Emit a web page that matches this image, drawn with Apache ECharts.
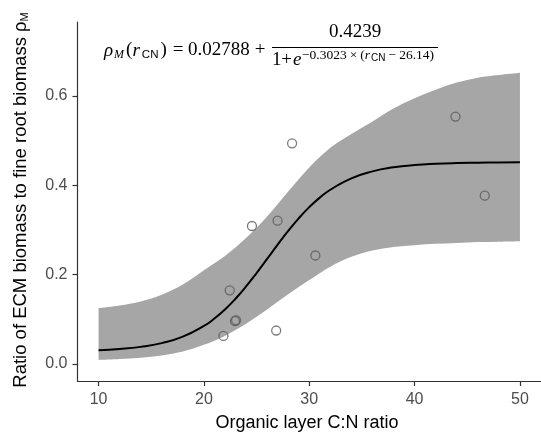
<!DOCTYPE html>
<html>
<head>
<meta charset="utf-8">
<script src="https://cdn.jsdelivr.net/npm/echarts@6/dist/echarts.min.js"></script>
<style>
  html, body { margin: 0; padding: 0; background: #fff; }
  #chart { width: 541px; height: 433px; }
</style>
</head>
<body>
<div id="chart"></div>
<script>
// Observed ECM / fine-root biomass ratios against organic layer C:N
const obsCN    = [28.37, 24.56, 26.99, 30.58, 22.45, 22.95, 23.05, 21.85, 26.86, 43.88, 46.66];
const obsRatio = [0.494, 0.309, 0.321, 0.243, 0.165, 0.096, 0.098, 0.063, 0.075, 0.554, 0.377];

// Fitted logistic curve
const fitCN    = [10, 12, 14, 16, 18, 20, 21, 22, 23, 24, 25, 26, 27, 28, 29, 30, 31, 32, 34, 36, 38, 40, 42, 44, 46, 48, 50];
const fitRatio = [0.0311, 0.0337, 0.0384, 0.0468, 0.0612, 0.0852, 0.1019, 0.1222, 0.1462, 0.1736, 0.2037,
                  0.2353, 0.2672, 0.2979, 0.3262, 0.3512, 0.3725, 0.3902, 0.4158, 0.4313, 0.4403, 0.4455,
                  0.4483, 0.4499, 0.4507, 0.4512, 0.4515];

// Confidence band around the fit
const bandCN    = [10, 12, 14, 16, 18, 20, 22, 24, 26, 28, 30, 32, 34, 36, 38, 40, 42, 44, 46, 48, 50];
const bandLower = [0.009, 0.011, 0.014, 0.019, 0.028, 0.043, 0.063, 0.090, 0.122, 0.156, 0.188,
                   0.218, 0.240, 0.254, 0.262, 0.266, 0.269, 0.271, 0.273, 0.274, 0.275];
const bandUpper = [0.125, 0.131, 0.140, 0.155, 0.178, 0.210, 0.242, 0.282, 0.330, 0.386, 0.440,
                   0.484, 0.515, 0.543, 0.572, 0.595, 0.614, 0.630, 0.641, 0.647, 0.652];

// Tick labels
const xTicks = [10, 20, 30, 40, 50];
const yTicks = [0.0, 0.2, 0.4, 0.6];

const chart = echarts.init(document.getElementById('chart'), null, { renderer: 'canvas' });

const axisColor = '#333333';
const serif = '"Liberation Serif", "Times New Roman", serif';
const sans = '"Liberation Sans", Arial, sans-serif';
const tickLabel = { color: '#4d4d4d', fontSize: 16, fontFamily: sans };

const eqRich = {
  it:  { fontFamily: serif, fontStyle: 'italic', fontSize: 19, color: '#000' },
  itP: { fontFamily: serif, fontStyle: 'italic', fontSize: 19, color: '#000', padding: [0, 1, 0, 0] },
  n:   { fontFamily: serif, fontSize: 19, color: '#000' },
  subI:{ fontFamily: serif, fontStyle: 'italic', fontSize: 12, color: '#000', padding: [9, 2, 0, 0] },
  sub: { fontFamily: sans, fontSize: 11.5, color: '#000', padding: [9, 2, 0, 1] },
  eIt: { fontFamily: serif, fontStyle: 'italic', fontSize: 13.5, color: '#000', padding: [0, 1, 0, 0] },
  eN:  { fontFamily: serif, fontSize: 13.5, color: '#000' },
  eOp: { fontFamily: serif, fontSize: 13.5, color: '#000', padding: [0, 3, 0, 3] },
  eSub:{ fontFamily: sans, fontSize: 10, color: '#000', padding: [6, 0, 0, 0] }
};

// Cubic (Catmull-Rom) segments through a list of pixel points
function curveThrough(pts) {
  let d = '';
  for (let i = 0; i < pts.length - 1; i++) {
    const p0 = pts[Math.max(i - 1, 0)], p1 = pts[i], p2 = pts[i + 1], p3 = pts[Math.min(i + 2, pts.length - 1)];
    const c1 = [p1[0] + (p2[0] - p0[0]) / 6, p1[1] + (p2[1] - p0[1]) / 6];
    const c2 = [p2[0] - (p3[0] - p1[0]) / 6, p2[1] - (p3[1] - p1[1]) / 6];
    d += ' C' + c1[0] + ' ' + c1[1] + ' ' + c2[0] + ' ' + c2[1] + ' ' + p2[0] + ' ' + p2[1];
  }
  return d;
}

// Band: smooth upper edge left to right, straight end, smooth lower edge back
function renderBand(params, api) {
  const up = bandCN.map((x, i) => api.coord([x, bandUpper[i]]));
  const lo = bandCN.map((x, i) => api.coord([x, bandLower[i]])).reverse();
  const d = 'M' + up[0][0] + ' ' + up[0][1] + curveThrough(up) +
            ' L' + lo[0][0] + ' ' + lo[0][1] + curveThrough(lo) + ' Z';
  return {
    type: 'path',
    shape: { pathData: d },
    style: { fill: '#a6a6a6', stroke: null }
  };
}

function eqText(x, y, text, align) {
  return {
    type: 'text', x: x, y: y, z: 100,
    style: { text: text, align: align || 'left', verticalAlign: 'middle', rich: eqRich }
  };
}

chart.setOption({
  animation: false,
  backgroundColor: '#ffffff',
  grid: { left: 77.5, top: 22, width: 465, height: 359, containLabel: false },
  xAxis: {
    type: 'value', min: 8, max: 52,
    axisLine: { show: true, onZero: false, lineStyle: { color: axisColor, width: 1.2 } },
    axisTick: { show: true, length: 5, customValues: xTicks, lineStyle: { color: axisColor, width: 1.2 } },
    axisLabel: Object.assign({ margin: 11, customValues: xTicks, formatter: v => String(v) }, tickLabel),
    splitLine: { show: false }
  },
  yAxis: {
    type: 'value', min: -0.038, max: 0.7657,
    axisLine: { show: true, onZero: false, lineStyle: { color: axisColor, width: 1.2 } },
    axisTick: { show: true, length: 5, customValues: yTicks, lineStyle: { color: axisColor, width: 1.2 } },
    axisLabel: Object.assign({ margin: 10, customValues: yTicks, formatter: v => v.toFixed(1) }, tickLabel),
    splitLine: { show: false }
  },
  series: [
    {
      name: 'band', type: 'custom', silent: true, renderItem: renderBand,
      data: [[bandCN[0], bandLower[0]]], z: 1
    },
    {
      name: 'fit', type: 'line', smooth: true, symbol: 'none',
      lineStyle: { color: '#000000', width: 2 },
      data: fitCN.map((x, i) => [x, fitRatio[i]]),
      z: 3
    },
    {
      name: 'observed', type: 'scatter', symbol: 'circle', symbolSize: 9,
      itemStyle: { color: 'rgba(0,0,0,0)', borderColor: '#5a5a5a', borderWidth: 1.3 },
      data: obsCN.map((x, i) => [x, obsRatio[i]]),
      z: 4
    }
  ],
  graphic: [
    // Axis titles
    {
      type: 'text', x: 307, y: 423, z: 100,
      style: { text: 'Organic layer C:N ratio', font: '18px ' + sans, fill: '#000', align: 'center', verticalAlign: 'middle' }
    },
    {
      type: 'text', x: 21, y: 200, rotation: Math.PI / 2, z: 100,
      style: {
        text: '{t|Ratio of ECM biomass to fine root biomass ρ}{s|M}',
        align: 'center', verticalAlign: 'middle',
        rich: {
          t: { fontFamily: sans, fontSize: 18.5, color: '#000' },
          s: { fontFamily: sans, fontSize: 11, color: '#000', padding: [8, 0, 0, 0] }
        }
      }
    },
    // Fitted equation: left-hand side and constant term
    eqText(104, 50.5, '{itP|ρ}{subI|M}{n|(}{itP|r}{sub|CN}{n|)}'),
    eqText(178, 50.5, '{n|=}', 'center'),
    eqText(188, 50.5, '{n|0.02788}'),
    eqText(260, 50.5, '{n|+}', 'center'),
    // Fraction
    eqText(355, 32, '{n|0.4239}', 'center'),
    {
      type: 'line', z: 100, shape: { x1: 272, y1: 47.5, x2: 438, y2: 47.5 },
      style: { stroke: '#000', lineWidth: 1.1 }
    },
    eqText(272, 60, '{n|1}'),
    eqText(286.5, 60, '{n|+}', 'center'),
    eqText(293, 60, '{it|e}'),
    eqText(302, 55.5, '{eN|−0.3023}{eOp|×}{eN|(}{eIt|r}{eSub|CN}{eOp|−}{eN|26.14)}')
  ]
});
</script>
</body>
</html>
